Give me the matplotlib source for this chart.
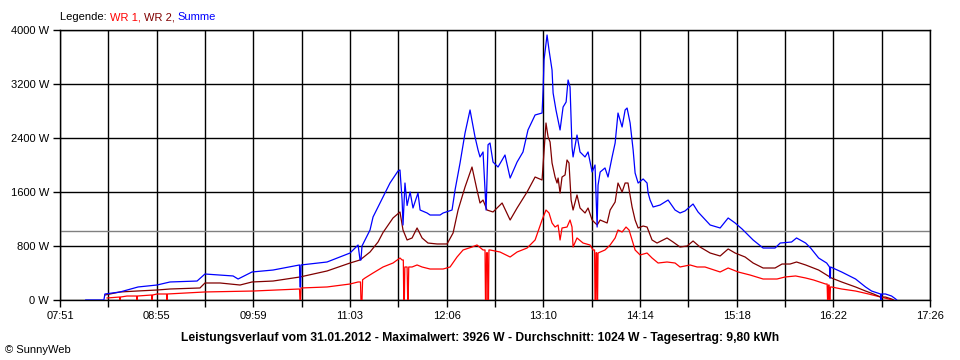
import matplotlib
matplotlib.use("Agg")
import matplotlib.pyplot as plt
from matplotlib.ticker import FixedLocator

plt.rcParams['font.family'] = ['Liberation Sans', 'DejaVu Sans']

# ---- data (time in minutes after midnight, power in W) ----
tick_labels = ["07:51", "08:55", "09:59", "11:03", "12:06", "13:10",
               "14:14", "15:18", "16:22", "17:26"]
y_ticks = [0, 800, 1600, 2400, 3200, 4000]
average_w = 1024

summe_t = [488, 500, 500.7, 510.7, 522.6, 535.1, 543.7, 561.6, 566.8, 576.8, 585.4, 588.7,
           597.9, 611.8, 629.3, 629.6, 630.0, 630.3, 647.5, 662.7, 668.0, 669.3, 669.9,
           670.6, 675.9, 677.9, 689.1, 694.4, 695.7, 697.1, 697.7, 699.0, 700.4, 702.4,
           704.3, 707.6, 709.0, 713.6, 715.6, 722.2, 724.2, 730.1, 732.1, 735.4, 738.7,
           742.0, 745.3, 747.3, 748.6, 750.6, 752.6, 753.9, 755.2, 757.2, 760.5, 765.1,
           768.5, 773.1, 777.0, 780.3, 785.0, 789.6, 790.3, 790.9, 792.9, 794.2, 796.2,
           796.9, 798.8, 801.5, 803.5, 805.5, 806.8, 808.1, 809.4, 810.1, 812.7, 814.7,
           818.0, 820.0, 822.7, 824.6, 826.0, 826.6, 828.0, 831.2, 833.2, 835.9, 837.9,
           839.8, 842.5, 844.5, 845.8, 847.8, 849.8, 851.1, 853.1, 856.4, 859.0, 859.7,
           861.0, 863.0, 867.6, 872.9, 877.5, 880.8, 884.1, 889.4, 892.7, 900.7, 907.3,
           912.6, 917.2, 921.8, 929.1, 935.7, 943.6, 947.0, 954.5, 957.8, 963.8, 967.1,
           972.4, 977.7, 979.6, 979.8, 980.2, 980.3, 987.6, 996.8, 1003.4, 1007.4, 1013.3,
           1013.5, 1013.8, 1014.0, 1016.6, 1020.6, 1023.3, 1024]
summe_w = [0, 0, 89, 119, 193, 222, 267, 281, 385, 370, 356, 311,
           415, 444, 519, 193, 193, 519, 563, 696, 815, 593, 593,
           800, 1037, 1230, 1733, 1911, 1926, 1481, 1111, 1733, 1400, 1600,
           1363, 1585, 1333, 1289, 1259, 1259, 1289, 1333, 1630, 2030, 2474,
           2815, 2415, 2222, 2119, 2193, 1333, 2300, 2326, 2044, 1970, 2148,
           1807, 2044, 2193, 2519, 2741, 2770, 3111, 3556, 3926, 3704, 3407,
           3067, 2815, 2519, 2859, 2933, 3259, 3156, 2267, 2119, 2444, 2193,
           2119, 2193, 1896, 2000, 1081, 1700, 1896, 1956, 1822, 2119, 2326,
           2770, 2563, 2815, 2844, 2622, 2222, 1881, 1733, 1793, 1733, 1585,
           1481, 1378, 1407, 1481, 1333, 1289, 1319, 1422, 1304, 1111, 1067,
           1215, 1141, 1052, 889, 770, 770, 844, 859, 919, 844, 770,
           622, 548, 489, 326, 326, 489, 415, 311, 193, 133, 89,
           0, 0, 89, 89, 59, 15, 0]

wr2_t = [500.7, 510.7, 521.9, 535.1, 543.7, 563.5, 566.8, 576.8, 590.0, 597.9, 611.8,
         629.6, 647.5, 662.7, 669.3, 675.9, 681.2, 684.5, 691.1, 695.7, 697.7, 700.4,
         703.7, 707.0, 710.3, 714.2, 720.2, 726.8, 730.8, 734.1, 738.7, 743.3, 746.6,
         748.6, 750.6, 753.2, 757.2, 763.2, 768.5, 773.1, 779.7, 785.0, 789.6, 792.2,
         793.6, 794.9, 796.2, 798.2, 799.5, 800.2, 801.5, 802.8, 804.8, 806.1, 807.4,
         808.8, 810.1, 812.7, 814.7, 818.0, 820.0, 822.7, 826.0, 828.0, 832.6, 834.6,
         837.9, 839.8, 842.5, 844.5, 846.4, 849.1, 851.1, 853.1, 856.4, 859.0, 862.3,
         865.6, 872.2, 876.2, 880.8, 885.5, 889.4, 894.0, 900.7, 907.3, 912.6, 917.2,
         923.8, 929.1, 935.7, 943.6, 948.2, 953.5, 957.8, 963.8, 972.4, 980.9, 987.6,
         996.8, 1003.4, 1008.7, 1013.3, 1016.6, 1020.6, 1022]
wr2_w = [74, 119, 133, 148, 163, 178, 252, 252, 222, 267, 281,
         341, 430, 548, 593, 711, 859, 1000, 1215, 1304, 1037, 889,
         919, 1067, 919, 844, 830, 830, 993, 1333, 1674, 1970, 1630,
         1437, 1481, 1333, 1304, 1437, 1185, 1363, 1600, 1822, 1778, 2622,
         2415, 2341, 2030, 1822, 1733, 1807, 1585, 1822, 1852, 2074, 2030,
         1481, 1333, 1556, 1363, 1289, 1363, 1185, 1111, 1185, 1141, 1333,
         1452, 1733, 1600, 1733, 1733, 1378, 1185, 1067, 1096, 1081, 889,
         844, 919, 859, 785, 800, 874, 785, 696, 652, 756, 696,
         637, 548, 474, 474, 533, 533, 563, 519, 444, 326, 267,
         193, 133, 89, 44, 44, 15, 0]

wr1_t = [502.1, 510.4, 510.7, 511.0, 515.3, 521.6, 521.9, 522.2, 531.6, 531.9, 532.2,
         535.1, 541.4, 541.7, 542.0, 566.8, 598.6, 629.3, 629.6, 630.0, 630.3, 647.5,
         662.7, 668.0, 669.6, 669.9, 670.6, 671.0, 672.6, 677.9, 684.5, 691.1, 695.7,
         697.1, 697.9, 698.2, 698.6, 698.9, 700.4, 700.8, 701.1, 701.5, 703.7, 707.0,
         710.3, 715.6, 724.2, 728.8, 733.4, 737.4, 743.3, 746.6, 750.6, 751.9, 752.2,
         752.6, 752.9, 753.5, 753.8, 754.2, 754.5, 755.2, 761.8, 768.5, 773.1, 779.7,
         785.0, 789.6, 792.2, 794.2, 796.2, 798.2, 800.2, 801.5, 802.8, 806.1, 808.1,
         809.4, 810.1, 812.7, 816.7, 821.3, 823.3, 824.3, 824.6, 825.0, 825.3, 825.7,
         826.0, 826.3, 826.6, 831.2, 834.6, 837.9, 839.8, 842.5, 845.1, 847.1, 849.1,
         851.1, 854.4, 859.0, 862.3, 866.3, 872.2, 877.5, 880.8, 887.4, 892.1, 897.3,
         907.3, 912.6, 919.2, 927.1, 935.7, 944.9, 950.2, 957.2, 963.8, 969.1, 977.0,
         978.0, 978.3, 978.6, 978.9, 979.3, 979.6, 979.9, 980.2, 980.9, 987.6, 996.8,
         1005.4, 1013.3, 1018.6, 1020.6]
wr1_w = [30, 44, 0, 44, 59, 59, 0, 59, 74, 0, 74,
         89, 89, 0, 89, 119, 133, 163, 0, 0, 178, 193,
         237, 267, 267, 0, 0, 300, 326, 400, 489, 548, 622,
         593, 593, 0, 0, 489, 489, 0, 0, 489, 489, 519,
         489, 459, 459, 489, 637, 741, 785, 815, 741, 741, 0,
         0, 700, 700, 0, 0, 741, 741, 711, 637, 711, 770,
         889, 1185, 1333, 1289, 1141, 1081, 1111, 889, 1067, 1081, 1185,
         1081, 785, 919, 844, 815, 741, 741, 0, 0, 700, 700,
         0, 0, 696, 741, 815, 919, 1037, 1007, 1081, 1037, 889,
         741, 667, 696, 622, 548, 563, 548, 489, 519, 489, 489,
         415, 474, 415, 370, 311, 311, 341, 356, 326, 296, 237,
         237, 0, 0, 222, 222, 0, 0, 193, 193, 163, 133,
         89, 44, 15, 0]

# ---- figure ----
fig = plt.figure(figsize=(9.6, 3.6), dpi=100)
ax = fig.add_axes([60/960, 1 - 300/360, 870/960, 270/360])

t0, t1 = 471, 1046
step = (t1 - t0) / 9
major = [t0 + i * step for i in range(10)]
minor = [t0 + (i + 0.5) * step for i in range(9)]

ax.set_xlim(t0, t1)
ax.set_ylim(0, 4000)
ax.xaxis.set_major_locator(FixedLocator(major))
ax.xaxis.set_minor_locator(FixedLocator(minor))
ax.set_xticklabels(tick_labels)
ax.set_yticks(y_ticks)
ax.set_yticklabels([f"{v} W" for v in y_ticks])

ax.grid(True, which='both', axis='x', color='black', lw=1.0)
ax.grid(True, which='major', axis='y', color='black', lw=1.0)
ax.set_axisbelow(True)
for s in ax.spines.values():
    s.set_color('black')
    s.set_linewidth(1.0)

ax.tick_params(axis='x', which='both', length=5, width=1, direction='out',
               labelsize=8, pad=3, colors='black')
ax.tick_params(axis='y', which='major', length=5, width=1, direction='out',
               labelsize=8, pad=3, colors='black')

ax.axhline(average_w, color='#808080', lw=1.0, zorder=1.5)

ax.plot(wr1_t, wr1_w, color='#ff0000', lw=0.9, zorder=3)
ax.plot(wr2_t, wr2_w, color='#800000', lw=0.9, zorder=3)
ax.plot(summe_t, summe_w, color='#0000ff', lw=0.9, zorder=3)

# legend text (coloured parts)
renderer = fig.canvas.get_renderer()
parts = [("Legende: ", 'black'), ("WR 1, ", '#ff0000'), ("WR 2, ", '#800000'), ("Summe", '#0000ff')]
xcur = 60
for txt, col in parts:
    t = fig.text(xcur/960, 1 - 17/360, txt, color=col, fontsize=8, va='center', ha='left')
    bb = t.get_window_extent(renderer=renderer)
    xcur += bb.width

fig.text(480/960, 1 - 338/360,
         "Leistungsverlauf vom 31.01.2012 - Maximalwert: 3926 W - Durchschnitt: 1024 W - Tagesertrag: 9,80 kWh",
         fontsize=8.7, fontweight='bold', ha='center', va='center')
fig.text(5/960, 1 - 350/360, "© SunnyWeb", fontsize=8, ha='left', va='center')

fig.savefig("out.png", dpi=100)
